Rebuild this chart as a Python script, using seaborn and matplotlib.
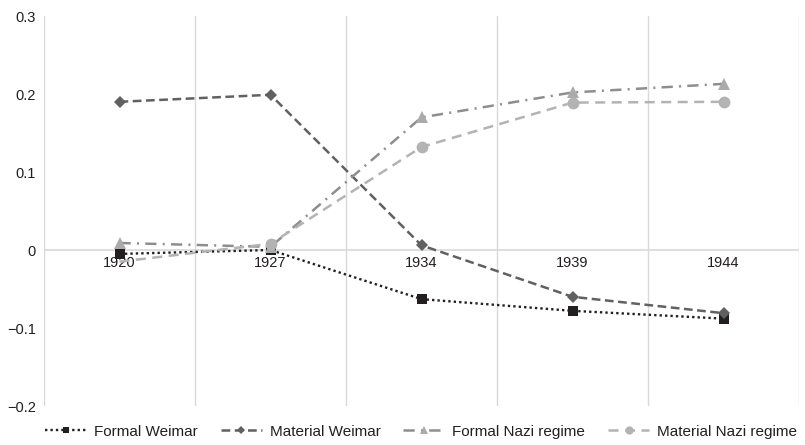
import numpy as np
import pandas as pd
import matplotlib
matplotlib.use('Agg')
from matplotlib import pyplot
import matplotlib.ticker as ticker
import seaborn as sns

years = ['1920', '1927', '1934', '1939', '1944']
formal_weimar = [-0.005, 0.000, -0.063, -0.078, -0.088]
material_weimar = [0.190, 0.199, 0.006, -0.060, -0.081]
formal_nazi = [0.009, 0.004, 0.170, 0.202, 0.213]
material_nazi = [-0.015, 0.008, 0.132, 0.189, 0.190]

series_names = ['Formal Weimar', 'Material Weimar', 'Formal Nazi regime', 'Material Nazi regime']
series_vals = [formal_weimar, material_weimar, formal_nazi, material_nazi]

# style per series: line colour, marker colour, marker, size, dashes
styles = {
	'Formal Weimar': dict(color='#231f20', mfc='#231f20', marker='s', ms=7, dashes=(1.0, 1.3), lw=1.7, every=None),
	'Material Weimar': dict(color='#616161', mfc='#616161', marker='D', ms=6.5, dashes=(3.5, 1.8), lw=1.8, every=None),
	'Formal Nazi regime': dict(color='#8e8e8e', mfc='#ababab', marker='^', ms=8.5, dashes=(4.5, 2.5, 0.8, 2.5), lw=1.8, every=None),
	'Material Nazi regime': dict(color='#b3b3b3', mfc='#b3b3b3', marker='o', ms=8.5, dashes=(4, 2.6), lw=1.8, every=[1, 2, 3, 4]),
}

sns.set_theme(style="white")
pyplot.rcParams['font.family'] = ['Liberation Sans', 'DejaVu Sans']

fig = pyplot.figure(figsize=(8.05, 4.45), dpi=100)
ax = fig.add_axes([44/805, 1 - 406/445, (799 - 44)/805, (406 - 16)/445])

for name, vals in zip(series_names, series_vals):
	st = styles[name]
	df = pd.DataFrame({'year': years, 'value': vals})
	sns.lineplot(data=df, x='year', y='value', ax=ax, color=st['color'], lw=st['lw'],
				 marker=st['marker'], markersize=st['ms'], markerfacecolor=st['mfc'],
				 markeredgecolor=st['mfc'], markeredgewidth=0, dashes=st['dashes'],
				 label=name, sort=False)
	line = ax.lines[-1]
	line.set_dashes(st['dashes'])
	if st['every'] is not None:
		line.set_markevery(st['every'])

ax.set_xlim(-0.5, len(years) - 0.5)
ax.set_ylim(-0.2, 0.3)
ax.yaxis.set_major_locator(ticker.MultipleLocator(0.1))
ax.yaxis.set_major_formatter(ticker.FuncFormatter(
	lambda v, p: '0' if abs(v) < 1e-9 else ('{:.1f}'.format(v)).replace('-', '\u2212')))

ax.set_xticks(range(len(years)))
ax.set_xticklabels(years)
ax.xaxis.set_minor_locator(ticker.FixedLocator([i - 0.5 for i in range(len(years) + 1)]))
ax.grid(which='minor', axis='x', color='#d9d9d9', linewidth=1.0, zorder=0)
ax.grid(which='major', visible=False)
ax.axhline(0, color='#d9d9d9', linewidth=1.2, zorder=0)

for s in ax.spines.values():
	s.set_visible(False)
ax.spines['bottom'].set_position(('data', 0))
ax.tick_params(axis='x', which='both', length=0, pad=4.5, labelsize=10.5, colors='#231f20')
ax.tick_params(axis='y', length=0, pad=6, labelsize=10.5, colors='#231f20')
ax.set_xlabel('')
ax.set_ylabel('')

handles, labels = ax.get_legend_handles_labels()
ax.legend_.remove()
leg = fig.legend(handles, labels, loc='center', bbox_to_anchor=(0.523, 0.03), ncol=4, frameon=False,
		   fontsize=11, handlelength=2.7, columnspacing=1.5, handletextpad=0.5, markerscale=0.7)
for t in leg.get_texts():
	t.set_color('#231f20')

pyplot.savefig('out.png', dpi=100)
